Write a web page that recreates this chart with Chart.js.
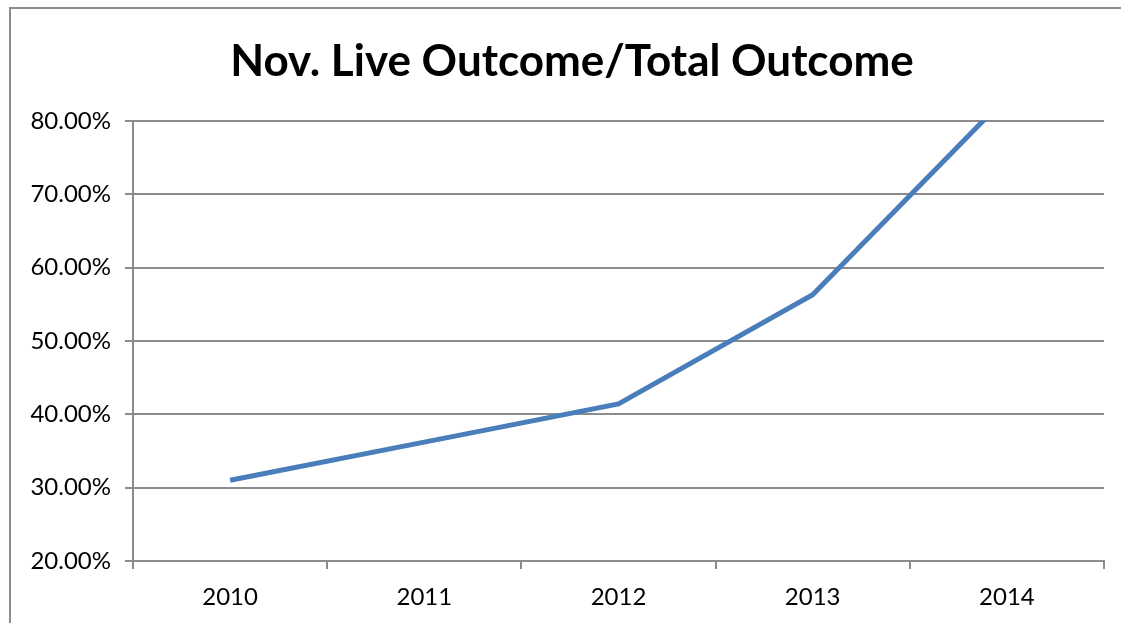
<!DOCTYPE html>
<html>
<head>
<meta charset="utf-8">
<script src="https://cdn.jsdelivr.net/npm/chart.js@4"></script>
<style>
  html, body { margin: 0; padding: 0; background: #fff; }
  #wrap { position: relative; width: 1121px; height: 623px; overflow: hidden; }
  #frame { position: absolute; left: 9px; top: 7px; width: 1130px; height: 640px;
           border-left: 2px solid #8c8c8c; border-top: 2px solid #8c8c8c; }
  canvas { position: absolute; left: 0; top: 0; }
</style>
</head>
<body>
<div id="wrap">
  <div id="frame"></div>
  <canvas id="chart" width="1121" height="623"></canvas>
</div>
<script>
/* Nov. Live Outcome / Total Outcome — Excel-style line chart */

const years = ["2010", "2011", "2012", "2013", "2014"];
const ratio = [0.310, 0.362, 0.414, 0.563, 0.833];
const yTicks = [0.2, 0.3, 0.4, 0.5, 0.6, 0.7, 0.8];

const FONT = "Lato, 'Open Sans', sans-serif";
const GRID = "#8c8c8c";

new Chart(document.getElementById("chart"), {
  type: "line",
  data: {
    labels: years,
    datasets: [{
      data: ratio,
      borderColor: "#4a7ebb",
      borderWidth: 5,
      pointRadius: 0,
      tension: 0,
      fill: false,
    }],
  },
  options: {
    responsive: false,
    animation: false,
    // left pad shifts the title so it centres like the original
    layout: { padding: { left: 23, right: 0, top: 0, bottom: 0 } },
    plugins: {
      legend: { display: false },
      tooltip: { enabled: false },
      title: {
        display: true,
        text: "Nov. Live Outcome/Total Outcome",
        color: "#000",
        font: { family: FONT, size: 44, weight: "bold", lineHeight: 1.2 },
        padding: { top: 35, bottom: 33 },
      },
    },
    scales: {
      x: {
        offset: true,
        grid: { offset: true, drawOnChartArea: false, color: GRID, lineWidth: 2, tickLength: 8 },
        border: { color: GRID, width: 2 },
        ticks: { color: "#000", font: { family: FONT, size: 24 }, padding: 14, maxRotation: 0 },
        afterFit: (s) => { s.height = 62; },
      },
      y: {
        min: 0.2,
        max: 0.8,
        afterBuildTicks: (s) => { s.ticks = yTicks.map((v) => ({ value: v })); },
        grid: { color: GRID, lineWidth: 2, tickLength: 8 },
        border: { color: GRID, width: 2 },
        ticks: {
          color: "#000",
          font: { family: FONT, size: 24 },
          padding: 14,
          callback: (v) => (v * 100).toFixed(2) + "%",
        },
        afterFit: (s) => { s.width = 110; },
      },
      // empty right axis just reserves the margin on the right
      yr: {
        position: "right",
        display: true,
        grid: { display: false },
        border: { display: false },
        ticks: { display: false },
        afterFit: (s) => { s.width = 17; },
      },
    },
  },
});
</script>
</body>
</html>
